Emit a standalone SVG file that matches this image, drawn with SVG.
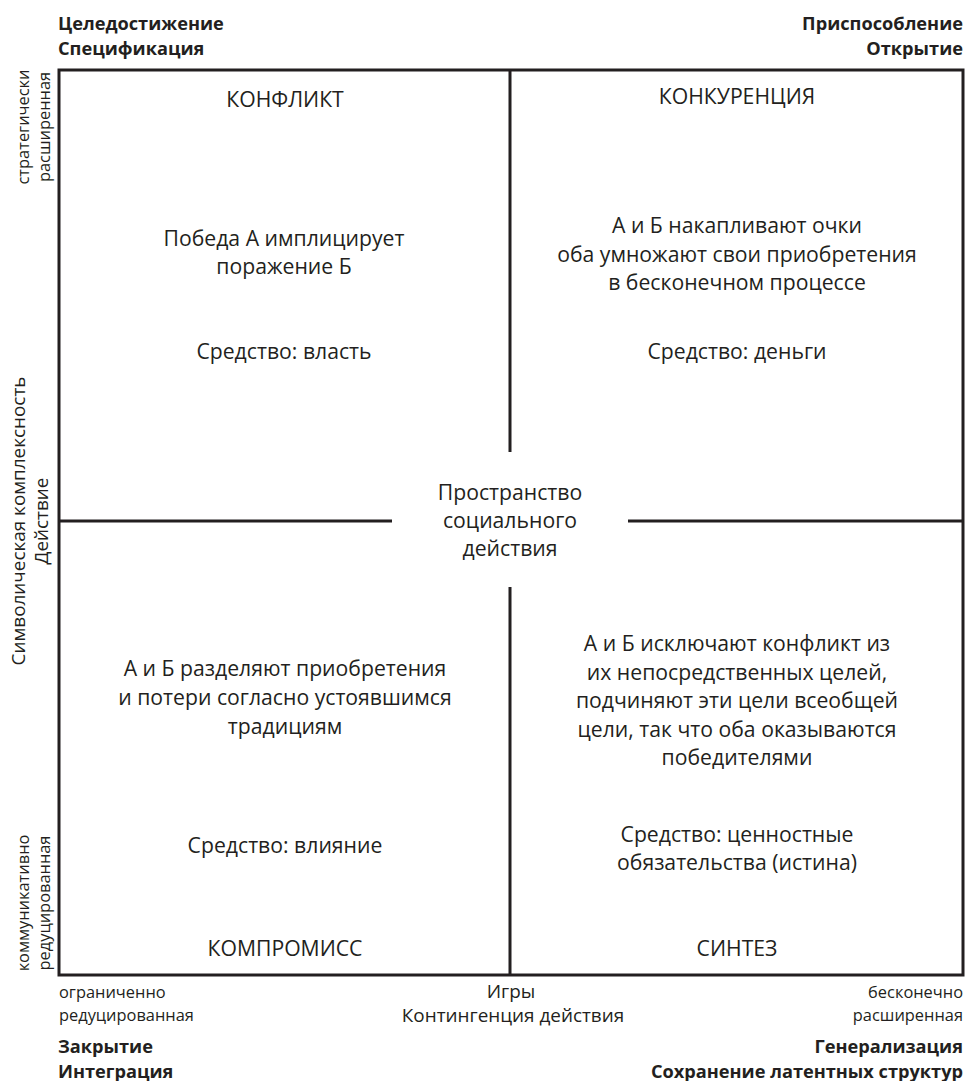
<svg xmlns="http://www.w3.org/2000/svg" width="966" height="1081" viewBox="0 0 966 1081">
<style>
text{font-family:"Open Sans","Noto Sans","Liberation Sans",sans-serif;fill:#231f20}
.q{font-size:21.2px;text-anchor:middle}
.s{font-size:16.4px}
.l{font-size:18.9px}
.b{font-size:18.2px;font-weight:bold}
.m{text-anchor:middle}
.e{text-anchor:end}
.ln{stroke:#231f20;stroke-width:3;fill:none}
</style>
<rect width="966" height="1081" fill="#ffffff"/>
<g id="connectors">
<rect class="ln" x="59" y="70" width="904" height="905"/>
<line class="ln" x1="510" y1="70" x2="510" y2="452"/>
<line class="ln" x1="510" y1="587" x2="510" y2="975"/>
<line class="ln" x1="59" y1="521" x2="392" y2="521"/>
<line class="ln" x1="628" y1="521" x2="963" y2="521"/>
</g>
<g id="corner-top-left">
<text class="b" x="58" y="30">Целедостижение</text>
<text class="b" x="58" y="55">Спецификация</text>
</g>
<g id="corner-top-right">
<text class="b e" x="963" y="30">Приспособление</text>
<text class="b e" x="963" y="55">Открытие</text>
</g>
<g id="corner-bottom-left">
<text class="b" x="58" y="1053">Закрытие</text>
<text class="b" x="58" y="1078">Интеграция</text>
</g>
<g id="corner-bottom-right">
<text class="b e" x="963" y="1053">Генерализация</text>
<text class="b e" x="963" y="1078">Сохранение латентных структур</text>
</g>
<g id="axis-left-top">
<text class="s m" transform="translate(29,127) rotate(-90)">стратегически</text>
<text class="s m" transform="translate(50,127) rotate(-90)">расширенная</text>
</g>
<g id="axis-left-mid">
<text class="l m" transform="translate(25,521) rotate(-90)">Символическая комплексность</text>
<text class="l m" transform="translate(48,521) rotate(-90)">Действие</text>
</g>
<g id="axis-left-bottom">
<text class="s m" transform="translate(29,903) rotate(-90)">коммуникативно</text>
<text class="s m" transform="translate(50,903) rotate(-90)">редуцированная</text>
</g>
<g id="axis-bottom-left">
<text class="s" x="59" y="998">ограниченно</text>
<text class="s" x="59" y="1021">редуцированная</text>
</g>
<g id="axis-bottom-mid">
<text class="l m" x="511" y="998">Игры</text>
<text class="l m" x="513" y="1022">Контингенция действия</text>
</g>
<g id="axis-bottom-right">
<text class="s e" x="963" y="998">бесконечно</text>
<text class="s e" x="963" y="1021">расширенная</text>
</g>
<g id="q-conflict">
<text class="q" x="285" y="107">КОНФЛИКТ</text>
<text class="q" x="284" y="246">Победа А имплицирует</text>
<text class="q" x="284" y="274">поражение Б</text>
<text class="q" x="284" y="359">Средство: власть</text>
</g>
<g id="q-competition">
<text class="q" x="737" y="104">КОНКУРЕНЦИЯ</text>
<text class="q" x="737" y="233">А и Б накапливают очки</text>
<text class="q" x="737" y="262">оба умножают свои приобретения</text>
<text class="q" x="737" y="290">в бесконечном процессе</text>
<text class="q" x="737" y="359">Средство: деньги</text>
</g>
<g id="center">
<text class="q" x="510" y="500">Пространство</text>
<text class="q" x="510" y="528">социального</text>
<text class="q" x="510" y="556">действия</text>
</g>
<g id="q-compromise">
<text class="q" x="285" y="676">А и Б разделяют приобретения</text>
<text class="q" x="285" y="705">и потери согласно устоявшимся</text>
<text class="q" x="285" y="734">традициям</text>
<text class="q" x="285" y="853">Средство: влияние</text>
<text class="q" x="285" y="956">КОМПРОМИСС</text>
</g>
<g id="q-synthesis">
<text class="q" x="737" y="651">А и Б исключают конфликт из</text>
<text class="q" x="737" y="680">их непосредственных целей,</text>
<text class="q" x="737" y="708">подчиняют эти цели всеобщей</text>
<text class="q" x="737" y="737">цели, так что оба оказываются</text>
<text class="q" x="737" y="765">победителями</text>
<text class="q" x="737" y="842">Средство: ценностные</text>
<text class="q" x="737" y="870">обязательства (истина)</text>
<text class="q" x="737" y="956">СИНТЕЗ</text>
</g>
</svg>
